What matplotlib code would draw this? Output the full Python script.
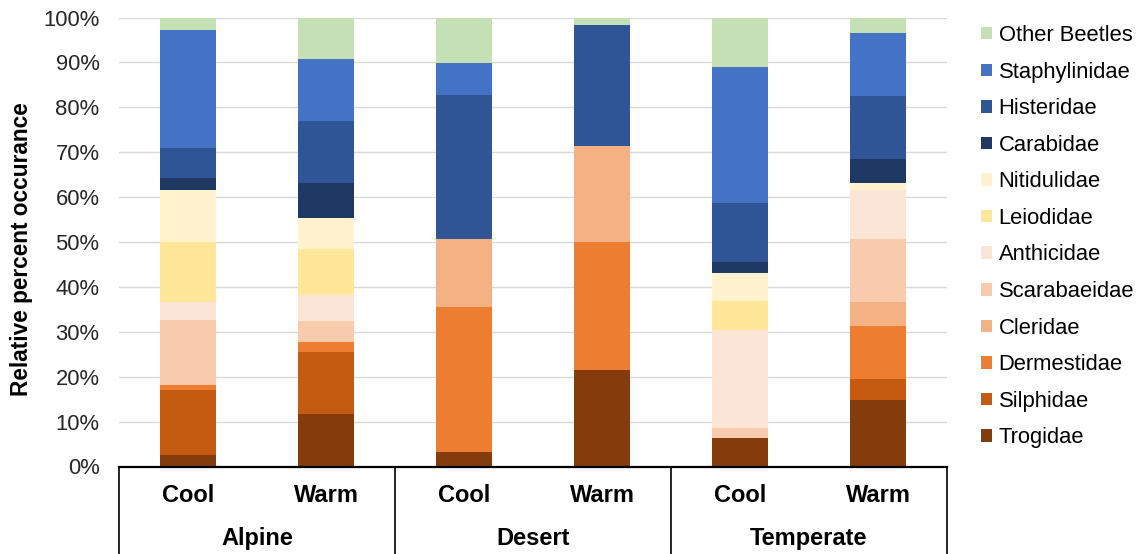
import matplotlib
matplotlib.use("Agg")
import matplotlib.pyplot as plt
from matplotlib.patches import Patch

plt.rcParams['font.family'] = ['Liberation Sans', 'DejaVu Sans']

conditions = ["Cool", "Warm", "Cool", "Warm", "Cool", "Warm"]
biomes = ["Alpine", "Desert", "Temperate"]
families = ["Trogidae", "Silphidae", "Dermestidae", "Cleridae", "Scarabaeidae",
            "Anthicidae", "Leiodidae", "Nitidulidae", "Carabidae", "Histeridae",
            "Staphylinidae", "Other Beetles"]
colors = ["#843C0C", "#C55A11", "#ED7D31", "#F4B183", "#F8CBAD", "#FBE5D6",
          "#FFE699", "#FFF2CC", "#203864", "#2F5597", "#4472C4", "#C5E0B4"]

# percent values per family, order: Alpine Cool, Alpine Warm, Desert Cool, Desert Warm, Temperate Cool, Temperate Warm
trogidae      = [2.6, 11.8, 3.3, 21.4, 6.4, 14.8]
silphidae     = [14.5, 13.8, 0.0, 0.0, 0.0, 4.6]
dermestidae   = [1.1, 2.1, 32.3, 28.6, 0.0, 11.9]
cleridae      = [0.0, 0.0, 15.0, 21.4, 0.0, 5.3]
scarabaeidae  = [14.4, 4.8, 0.0, 0.0, 2.2, 14.0]
anthicidae    = [4.1, 5.6, 0.0, 0.0, 21.8, 11.0]
leiodidae     = [13.3, 10.3, 0.0, 0.0, 6.5, 0.0]
nitidulidae   = [11.6, 6.9, 0.0, 0.0, 6.3, 1.5]
carabidae     = [2.6, 7.8, 0.0, 0.0, 2.3, 5.4]
histeridae    = [6.7, 13.8, 32.1, 27.0, 13.1, 14.1]
staphylinidae = [26.3, 13.8, 7.1, 0.0, 30.4, 14.0]
other_beetles = [2.8, 9.3, 10.2, 1.6, 11.0, 3.4]

series = [trogidae, silphidae, dermestidae, cleridae, scarabaeidae, anthicidae,
          leiodidae, nitidulidae, carabidae, histeridae, staphylinidae, other_beetles]

W, H = 1142, 554
fig = plt.figure(figsize=(W / 100, H / 100), dpi=100)
x0, x1, y0, y1 = 119, 947, 466.5, 17.5
ax = fig.add_axes([x0 / W, (H - y0) / H, (x1 - x0) / W, (y0 - y1) / H])

xs = list(range(len(conditions)))
bottom = [0.0] * len(xs)
for vals, col in zip(series, colors):
    fr = [v / 100 for v in vals]
    ax.bar(xs, fr, width=0.4, bottom=bottom, color=col, linewidth=0, zorder=3)
    bottom = [b + f for b, f in zip(bottom, fr)]

ax.set_xlim(-0.5, len(xs) - 0.5)
ax.set_ylim(0, 1)
ax.set_yticks([i / 10 for i in range(11)])
ax.set_yticklabels([f"{i*10}%" for i in range(11)], fontsize=15.8, color="#262626")
ax.tick_params(axis='y', length=0, pad=14)
ax.grid(axis='y', color="#D9D9D9", linewidth=1, zorder=0)
for s in ['left', 'right', 'top']:
    ax.spines[s].set_visible(False)
ax.spines['bottom'].set_color('black')
ax.spines['bottom'].set_linewidth(1.6)
ax.spines['bottom'].set_zorder(5)

ax.set_xticks([])
axh = y0 - y1
for x, lab in zip(xs, conditions):
    ax.text(x, -(495.5 - y0) / axh, lab, transform=ax.get_xaxis_transform(),
            ha='center', va='center', fontsize=17, fontweight='bold')

# group labels and separators
sep_bottom = -(H - y0) / axh
for g, name in enumerate(biomes):
    ax.text(2 * g + 0.5, -(538.5 - y0) / axh, name, transform=ax.get_xaxis_transform(),
            ha='center', va='center', fontsize=17, fontweight='bold')
for xb in [-0.5, 1.5, 3.5, 5.5]:
    ax.plot([xb, xb], [0, sep_bottom], color='black', linewidth=1.2,
            transform=ax.get_xaxis_transform(), clip_on=False)

fig.text(22 / W, 1 - 249 / H, "Relative percent occurance", rotation=90,
         ha='center', va='center', fontsize=16.3, fontweight='bold')

handles = [Patch(facecolor=c, edgecolor='none') for c in colors][::-1]
labels = families[::-1]
fig.legend(handles, labels, loc='upper left', bbox_to_anchor=(981 / W, 1 - 25 / H),
           frameon=False, fontsize=15.8, handlelength=0.5, handleheight=0.5,
           handletextpad=0.3, labelspacing=0.71, borderaxespad=0, borderpad=0)

fig.savefig("out.png", dpi=100)
